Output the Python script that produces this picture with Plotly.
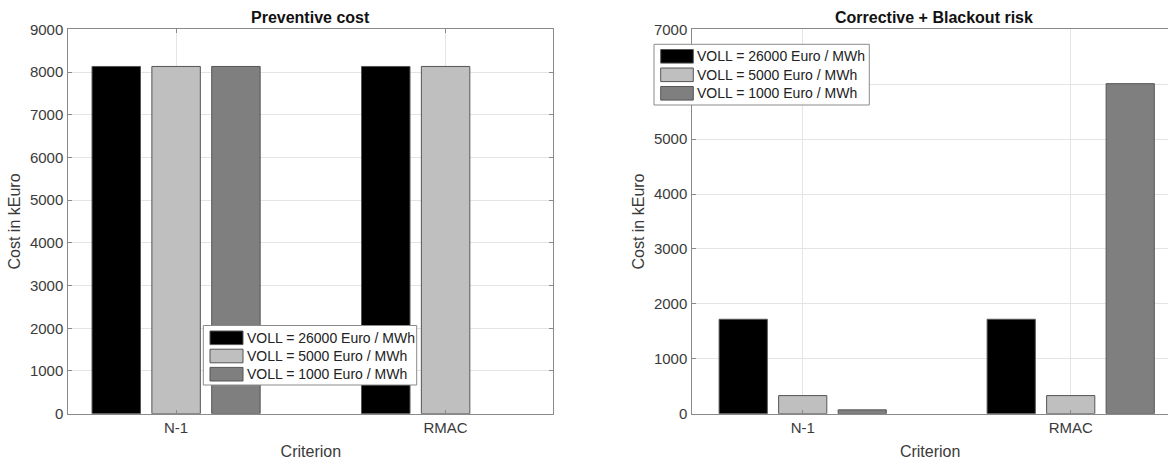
import plotly.graph_objects as go

W, H = 1168, 464

categories = ["N-1", "RMAC"]
series_names = ["VOLL = 26000 Euro / MWh", "VOLL = 5000 Euro / MWh", "VOLL = 1000 Euro / MWh"]
series_colors = ["#000000", "#bfbfbf", "#7f7f7f"]

preventive_26000 = [8130, 8130]
preventive_5000 = [8130, 8130]
preventive_1000 = [8130, None]

corrective_26000 = [1720, 1720]
corrective_5000 = [330, 330]
corrective_1000 = [70, 6010]

left_ticks = [0, 1000, 2000, 3000, 4000, 5000, 6000, 7000, 8000, 9000]
right_ticks = [0, 1000, 2000, 3000, 4000, 5000, 6000, 7000]


def px(x):
    return x / W


def py(y):
    return 1 - y / H


FONT = "Liberation Sans, Arial, Helvetica, sans-serif"
TXT = "#3a3a3a"
AX = "#8a8a8a"
GRID = "#e4e4e4"

fig = go.Figure()

pre = [preventive_26000, preventive_5000, preventive_1000]
cor = [corrective_26000, corrective_5000, corrective_1000]
for i in range(3):
    fig.add_trace(go.Bar(x=categories, y=pre[i], name=series_names[i],
                         marker=dict(color=series_colors[i], line=dict(color="#555555", width=1)),
                         xaxis="x", yaxis="y", showlegend=False))
for i in range(3):
    fig.add_trace(go.Bar(x=categories, y=cor[i], name=series_names[i],
                         marker=dict(color=series_colors[i], line=dict(color="#555555", width=1)),
                         xaxis="x2", yaxis="y2", showlegend=False))

ydom = [py(413.7), py(29.3)]
common_x = dict(type="category", showgrid=True, gridcolor=GRID, gridwidth=1, automargin=False,
                showline=True, linecolor=AX, linewidth=1, ticks="inside", ticklen=4,
                tickcolor=AX, tickfont=dict(family=FONT, size=15, color=TXT),
                title=dict(text="Criterion", font=dict(family=FONT, size=16, color=TXT), standoff=11),
                zeroline=False, fixedrange=True)
common_y = dict(showgrid=True, gridcolor=GRID, gridwidth=1, showline=True, linecolor=AX, automargin=False,
                linewidth=1, ticks="inside", ticklen=4, tickcolor=AX,
                tickfont=dict(family=FONT, size=15, color=TXT), zeroline=False,
                title=dict(text="Cost in kEuro", font=dict(family=FONT, size=16, color=TXT), standoff=5),
                ticklabelstandoff=1)

fig.update_layout(
    template="none",
    width=W, height=H, margin=dict(l=0, r=0, t=0, b=0, autoexpand=False),
    paper_bgcolor="white", plot_bgcolor="white",
    barmode="group", bargap=0.334, bargroupgap=0.19,
    font=dict(family=FONT, color=TXT),
    xaxis=dict(common_x, domain=[px(68.3), px(553.4)], range=[-0.4, 1.4], mirror="ticks", anchor="y"),
    yaxis=dict(common_y, domain=ydom, range=[0, 9000], tickvals=left_ticks, mirror="ticks", anchor="x"),
    xaxis2=dict(common_x, domain=[px(692.3), 1.0], range=[-0.412, -0.412 + (W - 692.3) / 268.0],
                mirror=True, anchor="y2"),
    yaxis2=dict(common_y, domain=ydom, range=[0, 7000], tickvals=right_ticks, anchor="x2"),
    showlegend=False,
)

# Titles
fig.add_annotation(text="<b>Preventive cost</b>", x=px(310.8), y=py(17), xref="paper", yref="paper",
                   showarrow=False, xanchor="center", yanchor="middle",
                   font=dict(family=FONT, size=16, color="#111111"))
fig.add_annotation(text="<b>Corrective + Blackout risk</b>", x=px(933.5), y=py(17), xref="paper", yref="paper",
                   showarrow=False, xanchor="center", yanchor="middle",
                   font=dict(family=FONT, size=16, color="#111111"))


# Custom legends (MATLAB-style wide swatches)
def add_legend(box, sw_x0, sw_x1, text_x, rows):
    x0, y0, x1, y1 = box
    fig.add_shape(type="rect", xref="paper", yref="paper", x0=px(x0), x1=px(x1), y0=py(y1), y1=py(y0),
                  fillcolor="white", line=dict(color="#8a8a8a", width=1), layer="above")
    for i, yc in enumerate(rows):
        fig.add_shape(type="rect", xref="paper", yref="paper", x0=px(sw_x0), x1=px(sw_x1),
                      y0=py(yc + 6.8), y1=py(yc - 6.8), fillcolor=series_colors[i],
                      line=dict(color="#555555", width=1), layer="above")
        fig.add_annotation(text=series_names[i], x=px(text_x), y=py(yc), xref="paper", yref="paper",
                           showarrow=False, xanchor="left", yanchor="middle",
                           font=dict(family=FONT, size=14, color="#222222"))


add_legend((203.3, 325.5, 416.7, 385), 210, 243, 244.5, [337.8, 356, 374.2])
add_legend((654, 44.3, 869.3, 105), 660.7, 693.3, 695, [56.3, 74.8, 93.3])

fig.write_html("out.html")
